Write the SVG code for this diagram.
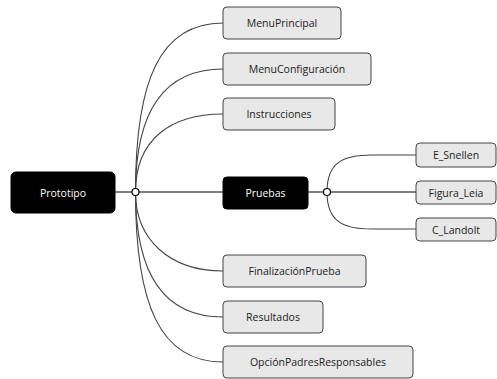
<svg xmlns="http://www.w3.org/2000/svg" width="497" height="379" viewBox="0 0 497 379">
<style>
.dark{fill:#000;stroke:#000;stroke-width:1}
.light{fill:#e8e8e8;stroke:#444;stroke-width:1}
.tw{fill:#fff;font-family:"Open Sans","Liberation Sans",sans-serif;font-size:10.5px;text-anchor:middle;dominant-baseline:central}
.tb{fill:#222;font-family:"Open Sans","Liberation Sans",sans-serif;font-size:10.5px;text-anchor:middle;dominant-baseline:central}
.c{fill:none;stroke:#444;stroke-width:1.1}
.s{fill:none;stroke:#000;stroke-width:1.2}
.j{fill:#fff;stroke:#000;stroke-width:1.2}
</style>
<rect width="497" height="379" fill="#fff"/>
<g id="connectors">
<path class="s" d="M115,192 L223,192"/>
<path class="s" d="M308,192 L416,192"/>
<path class="c" d="M135.5,192 C135.5,80 160,23 223,23"/>
<path class="c" d="M135.5,192 C135.5,110 165,69 223,69"/>
<path class="c" d="M135.5,192 C135.5,140 170,114 223,114"/>
<path class="c" d="M135.5,192 C135.5,240 170,271 223,271"/>
<path class="c" d="M135.5,192 C135.5,275 165,317 223,317"/>
<path class="c" d="M135.5,192 C135.5,305 160,362 223,362"/>
<path class="c" d="M327,192 C327,163 342,155 372,155 L416,155"/>
<path class="c" d="M327,192 C327,221 342,229 372,229 L416,229"/>
<circle class="j" cx="135.5" cy="192" r="3.5"/>
<circle class="j" cx="327" cy="192" r="3.5"/>
</g>
<g id="n-prototipo"><rect class="dark" x="11" y="172" width="104" height="41" rx="5"/><text class="tw" x="63" y="192.5">Prototipo</text></g>
<g id="n-pruebas"><rect class="dark" x="223" y="177" width="85" height="32" rx="4"/><text class="tw" x="265.5" y="193">Pruebas</text></g>
<g id="n-menuprincipal"><rect class="light" x="223" y="7" width="118" height="32" rx="4"/><text class="tb" x="282" y="23">MenuPrincipal</text></g>
<g id="n-menuconfig"><rect class="light" x="223" y="53" width="148" height="32" rx="4"/><text class="tb" x="297" y="69">MenuConfiguración</text></g>
<g id="n-instrucciones"><rect class="light" x="223" y="98" width="112" height="32" rx="4"/><text class="tb" x="279" y="114">Instrucciones</text></g>
<g id="n-finalizacion"><rect class="light" x="223" y="255" width="143" height="32" rx="4"/><text class="tb" x="294.5" y="271">FinalizaciónPrueba</text></g>
<g id="n-resultados"><rect class="light" x="223" y="301" width="100" height="32" rx="4"/><text class="tb" x="273" y="317">Resultados</text></g>
<g id="n-opcion"><rect class="light" x="223" y="346" width="190" height="32" rx="4"/><text class="tb" x="318" y="362">OpciónPadresResponsables</text></g>
<g id="n-esnellen"><rect class="light" x="416" y="143" width="80" height="24" rx="4"/><text class="tb" x="456" y="155">E_Snellen</text></g>
<g id="n-figuraleia"><rect class="light" x="416" y="181" width="80" height="23" rx="4"/><text class="tb" x="456" y="192.5">Figura_Leia</text></g>
<g id="n-clandolt"><rect class="light" x="416" y="218" width="80" height="23" rx="4"/><text class="tb" x="456" y="229.5">C_Landolt</text></g>
</svg>
